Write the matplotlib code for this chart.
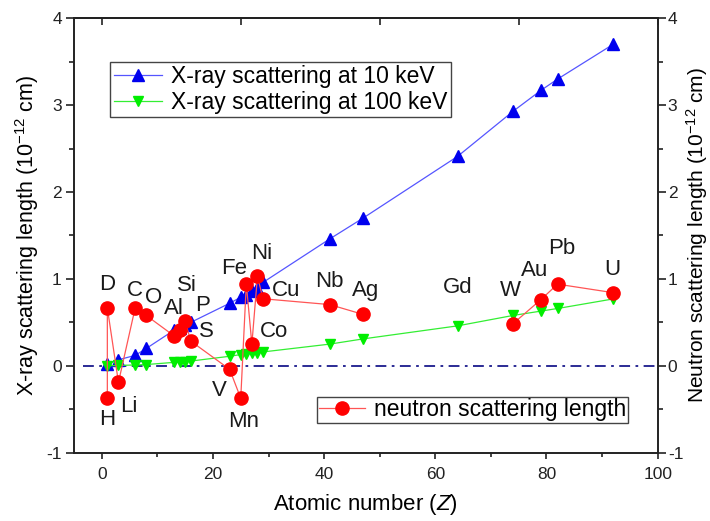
import numpy as np
import matplotlib
matplotlib.use('Agg')
import matplotlib.pyplot as plt
from matplotlib.ticker import MultipleLocator

plt.rcParams['font.family'] = ['Liberation Sans', 'DejaVu Sans']
plt.rcParams['mathtext.fontset'] = 'custom'
plt.rcParams['mathtext.rm'] = 'Liberation Sans'
plt.rcParams['mathtext.it'] = 'Liberation Sans:italic'
plt.rcParams['axes.unicode_minus'] = False

# ---- data ----
xray_Z = [1, 3, 6, 8, 13, 14, 15, 16, 23, 25, 26, 27, 28, 29, 41, 47, 64, 74, 79, 82, 92]
xray_10keV = [0.02, 0.07, 0.12, 0.20, 0.41, 0.44, 0.47, 0.50, 0.72, 0.79, 0.82, 0.86, 0.90, 0.96,
              1.46, 1.70, 2.41, 2.93, 3.17, 3.30, 3.70]
xray_100keV = [0.00, 0.005, 0.01, 0.015, 0.04, 0.045, 0.05, 0.055, 0.11, 0.13, 0.14, 0.145, 0.15, 0.16,
               0.25, 0.31, 0.46, 0.58, 0.63, 0.66, 0.77]

neutron_elements = ['H', 'D', 'Li', 'C', 'O', 'Al', 'Si', 'P', 'S', 'V', 'Mn', 'Fe', 'Co', 'Ni', 'Cu',
                    'Nb', 'Ag', 'Gd', 'W', 'Au', 'Pb', 'U']
neutron_Z = [1, 1, 3, 6, 8, 13, 14, 15, 16, 23, 25, 26, 27, 28, 29, 41, 47, 64, 74, 79, 82, 92]
neutron_b = [-0.374, 0.667, -0.19, 0.665, 0.58, 0.345, 0.415, 0.513, 0.285, -0.04, -0.373, 0.945,
             0.249, 1.03, 0.772, 0.705, 0.592, np.nan, 0.486, 0.763, 0.94, 0.842]

# label offsets in pixels from the marker (dx, dy)
label_offsets = {
    'H': (0, -21), 'D': (0, 23), 'Li': (10, -24), 'C': (0, 18), 'O': (7, 18),
    'Al': (0, 27), 'Si': (7, 44), 'P': (17, 16), 'S': (16, 10), 'V': (-10, -21),
    'Mn': (3, -23), 'Fe': (-12, 15), 'Co': (22, 13), 'Ni': (4, 23), 'Cu': (23, 8),
    'Nb': (0, 23), 'Ag': (3, 24), 'Gd': (0, 38), 'W': (-3, 33), 'Au': (-6, 29),
    'Pb': (4, 36), 'U': (-1, 23),
}

INK = '#222222'


def main():
    fig, ax = plt.subplots(figsize=(7.1, 5.21), dpi=100)
    fig.subplots_adjust(left=0.1042, right=0.9263, bottom=0.131, top=0.965)

    ax.axhline(0, xmin=0.015, xmax=1.0, color='#1a1a8c', lw=1.3, ls=(0, (6, 3, 1.5, 3)), zorder=1)

    l1, = ax.plot(xray_Z, xray_10keV, color='#5555ff', lw=0.9, marker='^', ms=8,
                  mfc='#0000ee', mec='#0000ee', label='X-ray scattering at 10 keV', zorder=3)
    l2, = ax.plot(xray_Z, xray_100keV, color='#33ee33', lw=0.9, marker='v', ms=7.5,
                  mfc='#00ee00', mec='#00ee00', label='X-ray scattering at 100 keV', zorder=3)

    ax2 = ax.twinx()
    l3, = ax2.plot(neutron_Z, neutron_b, color='#ff5555', lw=0.9, marker='o', ms=9.5,
                   mfc='#ff0000', mec='#ff0000', label='neutron scattering length', zorder=4)

    for name, z, b in zip(neutron_elements, neutron_Z, neutron_b):
        y = b
        if np.isnan(y):
            y = xray_100keV[xray_Z.index(z)]
        dx, dy = label_offsets[name]
        ax2.annotate(name, xy=(z, y), xytext=(dx, dy), textcoords='offset pixels',
                     ha='center', va='center', fontsize=16, color='#1a1a1a')

    for a in (ax, ax2):
        a.set_xlim(-5, 100)
        a.set_ylim(-1, 4)
        a.yaxis.set_major_locator(MultipleLocator(1))
        a.yaxis.set_minor_locator(MultipleLocator(0.5))
        for s in a.spines.values():
            s.set_linewidth(1.2)
            s.set_color(INK)

    ax.xaxis.set_major_locator(MultipleLocator(20))
    ax.xaxis.set_minor_locator(MultipleLocator(10))
    ax.tick_params(which='both', direction='out', colors=INK, labelsize=12.5, width=1.2)
    ax.tick_params(axis='y', which='major', length=5.8, pad=3)
    ax.tick_params(axis='y', which='minor', length=3.6)
    ax.tick_params(axis='x', which='major', length=4.5, pad=6)
    ax.tick_params(axis='x', which='minor', length=3)
    ax2.tick_params(which='both', direction='out', colors=INK, labelsize=12.5, width=1.2)
    ax2.tick_params(which='major', length=5.8, pad=1.5)
    ax2.tick_params(which='minor', length=3.6)

    top = ax.secondary_xaxis('top')
    top.set_xticks([0, 25, 50, 75, 100])
    top.tick_params(direction='in', length=5, width=1.2, labeltop=False, colors=INK)
    top.spines['top'].set_linewidth(1.2)

    ax.set_xlabel('Atomic number ($\\it{Z}$)', fontsize=16, labelpad=7)
    ax.set_ylabel('X-ray scattering length (10$^{-12}$ cm)', fontsize=15.5, labelpad=4)
    ax2.set_ylabel('Neutron scattering length (10$^{-12}$ cm)', fontsize=15)
    ax2.yaxis.set_label_coords(1.045, 0.5)

    leg1 = ax.legend(handles=[l1, l2], loc='upper left', bbox_to_anchor=(0.062, 0.9),
                     fontsize=16.5, frameon=True, fancybox=False, edgecolor='#444444',
                     framealpha=1, borderpad=0.15, labelspacing=0.12, handlelength=2.1,
                     handletextpad=0.4, borderaxespad=0)
    leg1.get_frame().set_linewidth(1.0)
    leg2 = ax2.legend(handles=[l3], loc='lower right', bbox_to_anchor=(0.949, 0.068),
                      fontsize=16.5, frameon=True, fancybox=False, edgecolor='#444444',
                      framealpha=1, borderpad=0.08, handlelength=2.0, handletextpad=0.4,
                      borderaxespad=0)
    leg2.get_frame().set_linewidth(1.0)

    fig.savefig('out.png', dpi=100)


if __name__ == '__main__':
    main()
